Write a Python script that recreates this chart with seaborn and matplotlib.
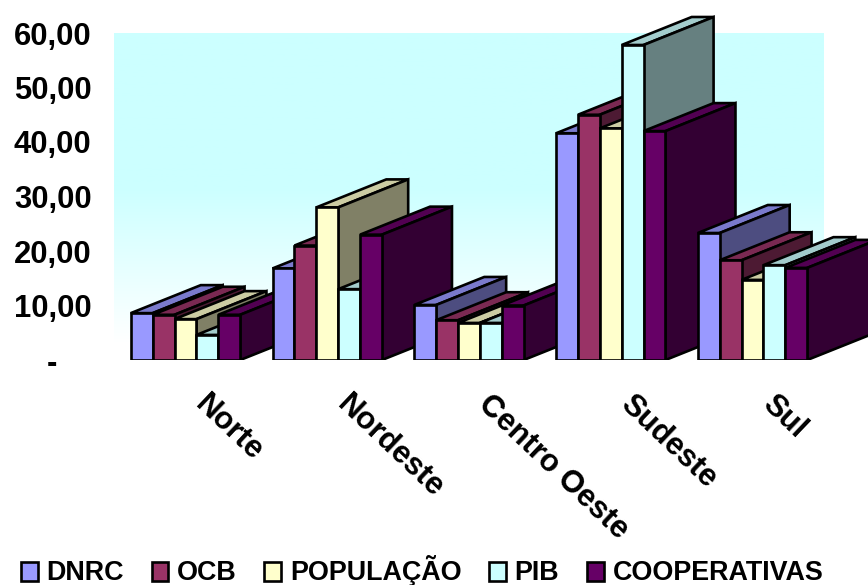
import matplotlib
matplotlib.use("Agg")
import matplotlib.pyplot as plt
from matplotlib.colors import LinearSegmentedColormap, to_rgb
from matplotlib.patches import Polygon
from matplotlib.transforms import ScaledTranslation
import numpy as np
import pandas as pd
import seaborn as sns

regions = ["Norte", "Nordeste", "Centro Oeste", "Sudeste", "Sul"]
dnrc = [8.6, 16.8, 10.1, 41.6, 23.3]
ocb = [8.3, 21.0, 7.3, 45.0, 18.3]
populacao = [7.5, 28.0, 6.8, 42.5, 14.7]
pib = [4.6, 13.0, 6.8, 57.8, 17.4]
cooperativas = [8.3, 23.0, 10.0, 42.0, 16.9]
series_names = ["DNRC", "OCB", "POPULAÇÃO", "PIB", "COOPERATIVAS"]
y_ticks = [0, 10, 20, 30, 40, 50, 60]
y_tick_labels = ["-    ", "10,00", "20,00", "30,00", "40,00", "50,00", "60,00"]
colors = ["#9999FF", "#993366", "#FFFFCC", "#CCFFFF", "#660066"]

sns.set_style("white")
plt.rcParams["font.family"] = ["Liberation Sans", "DejaVu Sans"]
plt.rcParams["font.weight"] = "bold"
plt.rcParams["text.color"] = "black"
plt.rcParams["xtick.color"] = "black"
plt.rcParams["ytick.color"] = "black"

df = pd.DataFrame(
    {"Região": regions, "DNRC": dnrc, "OCB": ocb, "POPULAÇÃO": populacao,
     "PIB": pib, "COOPERATIVAS": cooperativas}
).melt(id_vars="Região", var_name="Série", value_name="Valor")

W, H = 868, 585
BASE_PX, LEFT_PX = 360, 97
PX_PER_CATEGORY, PX_PER_UNIT = 141.75, 5.45
FIRST_CENTER_PX = 185.5
DEPTH_X = 70 / PX_PER_CATEGORY
DEPTH_Y = 28 / PX_PER_UNIT
EDGE_W = 1.9

fig = plt.figure(figsize=(W / 100, H / 100), dpi=100)
ax = fig.add_axes([LEFT_PX / W, (H - BASE_PX) / H, (W - LEFT_PX) / W, BASE_PX / H])

sns.barplot(
    data=df, x="Região", y="Valor", hue="Série", order=regions,
    hue_order=series_names, palette=colors, saturation=1, width=0.772, gap=0,
    edgecolor="black", linewidth=EDGE_W, errorbar=None, ax=ax,
)


def shade(color, factor):
    return tuple(channel * factor for channel in to_rgb(color))


# Extrude every bar backwards: top and right faces, painted left to right
for s, container in enumerate(ax.containers):
    for c, bar in enumerate(container.patches):
        x0, x1, h = bar.get_x(), bar.get_x() + bar.get_width(), bar.get_height()
        order = 10 + c * 5 + s
        bar.set_zorder(order + 0.5)
        bar.set_joinstyle("miter")
        top = [(x0, h), (x1, h), (x1 + DEPTH_X, h + DEPTH_Y), (x0 + DEPTH_X, h + DEPTH_Y)]
        side = [(x1, 0), (x1 + DEPTH_X, DEPTH_Y), (x1 + DEPTH_X, h + DEPTH_Y), (x1, h)]
        for verts, factor in ((top, 0.8), (side, 0.5)):
            ax.add_patch(Polygon(verts, closed=True, facecolor=shade(colors[s], factor),
                                 edgecolor="black", linewidth=EDGE_W, joinstyle="miter",
                                 zorder=order))

# Back wall with a vertical cyan-to-white fade
wall_cmap = LinearSegmentedColormap.from_list("wall", ["#CCFFFF", "#CCFFFF", "#FFFFFF"])
ax.imshow(
    np.linspace(0, 1, 256)[:, None], cmap=wall_cmap, aspect="auto", origin="upper",
    extent=[(114 - FIRST_CENTER_PX) / PX_PER_CATEGORY, (824 - FIRST_CENTER_PX) / PX_PER_CATEGORY,
            (BASE_PX - 343) / PX_PER_UNIT, (BASE_PX - 33) / PX_PER_UNIT],
    zorder=0,
)

ax.set_xlim((LEFT_PX - FIRST_CENTER_PX) / PX_PER_CATEGORY, (W - FIRST_CENTER_PX) / PX_PER_CATEGORY)
ax.set_ylim(0, BASE_PX / PX_PER_UNIT)
ax.set_xlabel("")
ax.set_ylabel("")
sns.despine(ax=ax, left=True, bottom=True, top=True, right=True)

ax.set_yticks(y_ticks)
ax.set_yticklabels(y_tick_labels, fontsize=22.3, fontweight="bold", color="black")
ax.tick_params(axis="y", length=0, pad=4)
ax.set_xticks(range(len(regions)))
ax.set_xticklabels(regions, fontsize=22.3, fontweight="bold", rotation=-43.5, color="black",
                   ha="left", va="top", rotation_mode="anchor")
ax.tick_params(axis="x", length=0, pad=21)
# Slide the slanted region names to the right of their group centres
label_shift = ScaledTranslation(24 / 100, 0, fig.dpi_scale_trans)
for label in ax.get_xticklabels():
    label.set_transform(label.get_transform() + label_shift)

sns.move_legend(
    ax, "center left", bbox_to_anchor=(21 / W, 1 - 571 / H),
    bbox_transform=fig.transFigure, ncol=5, frameon=False, title=None,
    prop={"family": "Liberation Sans", "weight": "bold", "size": 19.4},
    handlelength=0.62, handletextpad=0.33, columnspacing=1.02,
    borderpad=0, borderaxespad=0, labelcolor="black",
)

fig.savefig("out.png", dpi=100)
